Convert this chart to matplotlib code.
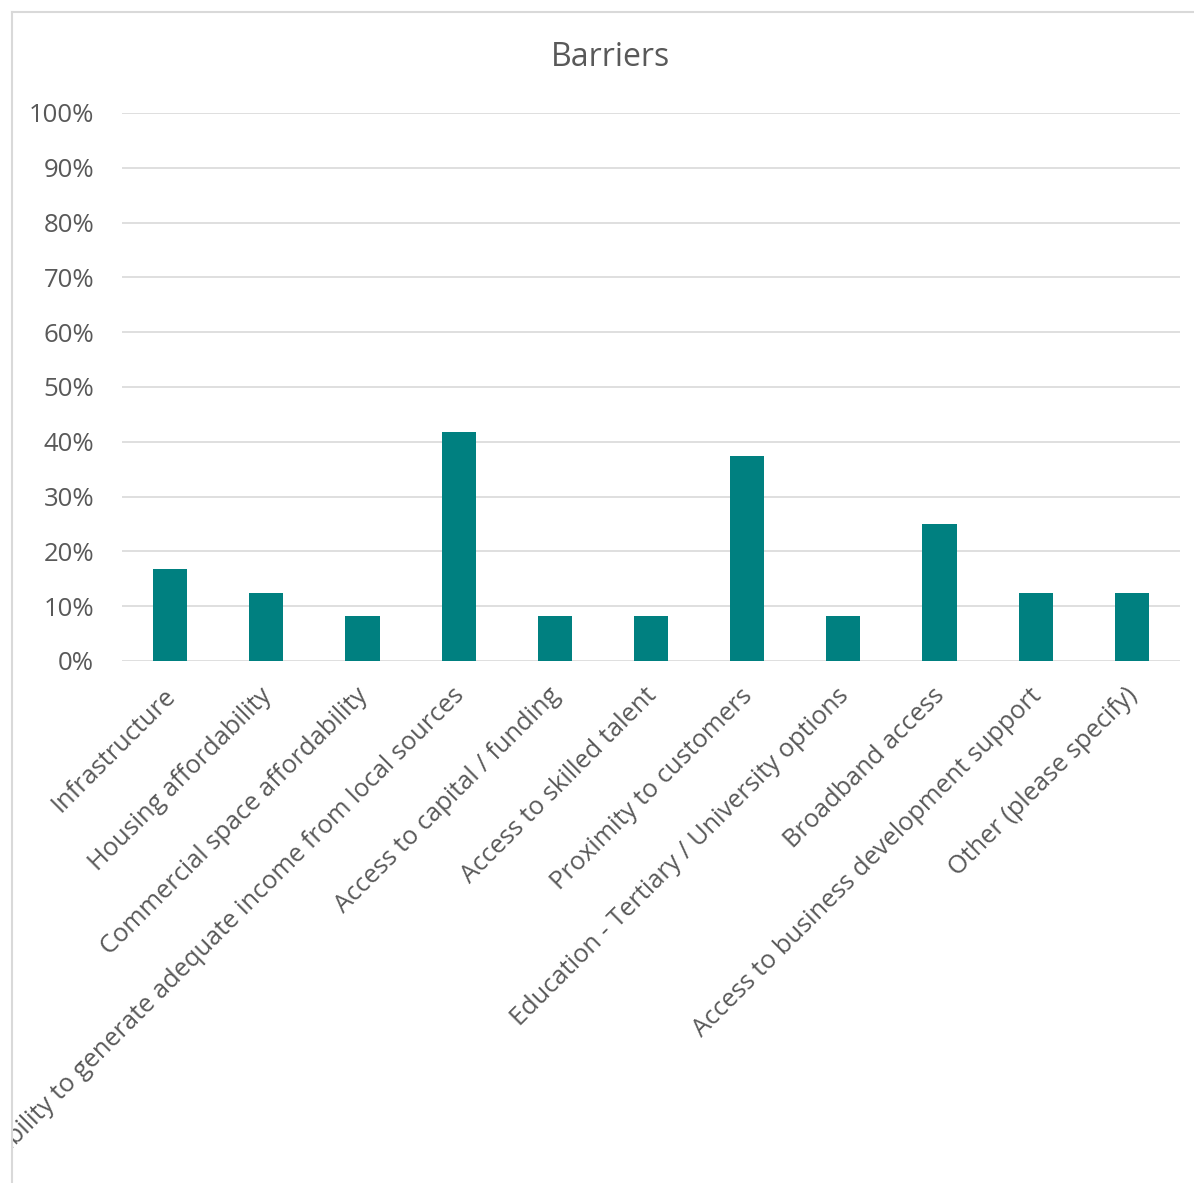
import matplotlib
matplotlib.use("Agg")
import matplotlib.pyplot as plt
from matplotlib.ticker import PercentFormatter
from matplotlib.transforms import Bbox, TransformedBbox, ScaledTranslation
from matplotlib.lines import Line2D

categories = [
    "Infrastructure",
    "Housing affordability",
    "Commercial space affordability",
    "Inability to generate adequate income from local sources",
    "Access to capital / funding",
    "Access to skilled talent",
    "Proximity to customers",
    "Education - Tertiary / University options",
    "Broadband access",
    "Access to business development support",
    "Other (please specify)",
]
shares = [16.7, 12.5, 8.3, 41.7, 8.3, 8.3, 37.5, 8.3, 25.0, 12.5, 12.5]
y_ticks = [0, 10, 20, 30, 40, 50, 60, 70, 80, 90, 100]

TEXT = "#595959"
GRID = "#D9D9D9"
BAR = "#008080"
FONT = "Open Sans"

W, H = 1194, 1183
fig = plt.figure(figsize=(W / 100, H / 100), dpi=100)
fig.patch.set_facecolor("white")

ax = fig.add_axes([122 / W, (H - 661) / H, (1180 - 122) / W, 548 / H])
x = range(len(categories))
ax.bar(x, shares, width=0.355, color=BAR, zorder=3)

ax.set_xlim(-0.5, len(categories) - 0.5)
ax.set_ylim(0, 100)
ax.set_yticks(y_ticks)
ax.yaxis.set_major_formatter(PercentFormatter(decimals=0))
ax.yaxis.grid(True, color=GRID, linewidth=1.2, zorder=0)
ax.set_axisbelow(True)
for s in ax.spines.values():
    s.set_visible(False)
ax.tick_params(axis="y", length=0, pad=20, labelsize=18.5, labelcolor=TEXT)
ax.tick_params(axis="x", length=0, pad=16, labelsize=18.3, labelcolor=TEXT)
for lab in ax.get_yticklabels():
    lab.set_fontfamily(FONT)

ax.set_xticks(list(x))
ax.set_xticklabels(categories, rotation=45, ha="right", va="top",
                   rotation_mode="anchor", fontfamily=FONT)

# keep labels inside the chart frame and nudge them left a little
frame = TransformedBbox(Bbox([[12 / W, 0], [1, 1 - 12 / H]]), fig.transFigure)
shift = ScaledTranslation(-0.07, 0, fig.dpi_scale_trans)
for lab in ax.get_xticklabels():
    lab.set_transform(lab.get_transform() + shift)
    lab.set_clip_on(True)
    lab.set_clip_box(frame)

# chart frame (top and left edges)
fig.add_artist(Line2D([12 / W, 12 / W], [0, 1 - 12 / H], transform=fig.transFigure,
                      color=GRID, linewidth=1.5))
fig.add_artist(Line2D([12 / W, 1], [1 - 12 / H, 1 - 12 / H], transform=fig.transFigure,
                      color=GRID, linewidth=1.5))

fig.text(610 / W, 1 - 58 / H, "Barriers", ha="center", va="center",
         fontsize=23, color=TEXT, fontfamily=FONT)

fig.savefig("out.png", dpi=100, facecolor="white")
